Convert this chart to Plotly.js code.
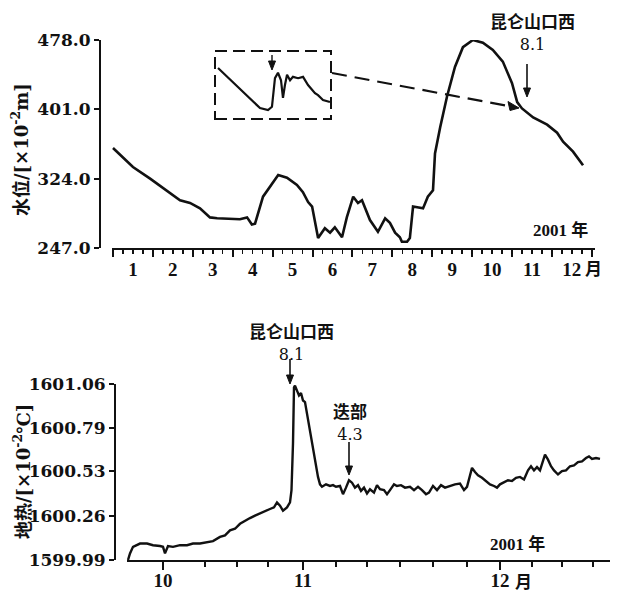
<!DOCTYPE html>
<html>
<head>
<meta charset="utf-8">
<script src="https://cdn.plot.ly/plotly-3.0.1.min.js"></script>
<style>html,body{margin:0;padding:0;background:#fff}#chart{width:618px;height:592px}</style>
</head>
<body>
<div id="chart"></div>
<script>
// ---------- Top panel: water level (months of 2001, x = months elapsed since Jan 1) ----------
const levelMonth = [0.0,0.50,0.93,1.35,1.68,1.93,2.18,2.43,2.61,3.18,3.36,3.48,3.56,3.76,3.93,4.14,4.36,4.61,4.76,4.89,4.99,5.14,5.31,5.44,5.56,5.74,5.86,6.02,6.14,6.24,6.44,6.64,6.82,6.94,7.07,7.19,7.24,7.37,7.44,7.52,7.77,7.89,8.02,8.07,8.20,8.37,8.57,8.77,9.02,9.27,9.52,9.77,10.0,10.13,10.25,10.53,10.88,11.13,11.28,11.53,11.78];
const levelValue = [358,337,324,311,300,297,291,281,280,279,281,273,274,304,315,328,325,317,309,298,293,258,269,264,270,259,281,304,297,300,278,265,280,275,264,259,254,254,258,293,291,304,311,352,381,415,448,470,478,475,467,454,430,409,402,392,384,375,365,354,339];

// Inset (zoom of the 8.1 event), relative units
const insetTime  = [0.026,0.198,0.388,0.457,0.491,0.517,0.543,0.569,0.586,0.603,0.621,0.647,0.672,0.716,0.759,0.802,0.862,0.888,0.931,0.991];
const insetLevel = [0.75,0.47,0.16,0.13,0.18,0.60,0.68,0.57,0.31,0.50,0.65,0.57,0.62,0.60,0.62,0.50,0.38,0.35,0.28,0.25];

const levelTicks = [247.0, 324.0, 401.0, 478.0];
const levelTickText = ['247.0', '324.0', '401.0', '478.0'];
const monthCenters = [0.5,1.5,2.5,3.5,4.5,5.5,6.5,7.5,8.5,9.5,10.5,11.5];
const monthLabels = ['1','2','3','4','5','6','7','8','9','10','11','12'];

// ---------- Bottom panel: geothermal temperature (x = tick units from label "10") ----------
const heatX = [-1.05,-0.99,-0.90,-0.69,-0.48,-0.30,-0.09,0,0.06,0.15,0.30,0.51,0.72,0.90,1.11,1.32,1.50,1.71,1.86,2.01,2.16,2.31,2.46,2.61,2.76,2.91,3.06,3.21,3.33,3.42,3.51,3.60,3.72,3.81,3.855,3.90,3.93,3.96,4.02,4.08,4.14,4.20,4.26,4.35,4.47,4.56,4.65,4.71,4.77,4.89,5.01,5.10,5.19,5.31,5.40,5.49,5.58,5.67,5.76,5.85,5.94,6.03,6.12,6.21,6.33,6.42,6.51,6.63,6.72,6.81,6.93,7.02,7.14,7.26,7.41,7.53,7.65,7.77,7.89,7.98,8.10,8.22,8.34,8.46,8.61,8.76,8.91,9.03,9.12,9.21,9.27,9.36,9.45,9.57,9.69,9.81,9.93,10.02,10.11,10.23,10.35,10.47,10.59,10.71,10.83,10.95,11.04,11.13,11.22,11.31,11.40,11.46,11.55,11.64,11.73,11.85,11.97,12.09,12.21,12.33,12.45,12.57,12.69,12.78,12.87,12.99,13.11];
const heatValue = [1599.99,1600.03,1600.07,1600.09,1600.09,1600.08,1600.075,1600.07,1600.03,1600.075,1600.07,1600.08,1600.08,1600.09,1600.09,1600.10,1600.105,1600.13,1600.14,1600.17,1600.18,1600.21,1600.23,1600.245,1600.26,1600.275,1600.29,1600.30,1600.31,1600.34,1600.32,1600.29,1600.31,1600.34,1600.415,1600.70,1601.04,1601.05,1601.02,1600.99,1601.005,1600.96,1600.95,1600.84,1600.72,1600.61,1600.495,1600.45,1600.435,1600.45,1600.44,1600.445,1600.435,1600.44,1600.39,1600.43,1600.475,1600.46,1600.43,1600.445,1600.41,1600.43,1600.395,1600.42,1600.40,1600.445,1600.42,1600.415,1600.39,1600.415,1600.45,1600.44,1600.445,1600.43,1600.435,1600.415,1600.435,1600.415,1600.39,1600.40,1600.44,1600.415,1600.445,1600.43,1600.44,1600.45,1600.455,1600.415,1600.435,1600.505,1600.55,1600.525,1600.505,1600.49,1600.47,1600.45,1600.44,1600.43,1600.45,1600.465,1600.475,1600.47,1600.49,1600.495,1600.48,1600.535,1600.56,1600.535,1600.555,1600.535,1600.585,1600.63,1600.60,1600.56,1600.535,1600.51,1600.53,1600.535,1600.56,1600.565,1600.585,1600.59,1600.61,1600.62,1600.605,1600.61,1600.605];

const heatTicks = [1599.99, 1600.26, 1600.53, 1600.79, 1601.06];
const heatTickText = ['1599.99', '1600.26', '1600.53', '1600.79', '1601.06'];
const heatXLabelPos = [0, 4.2, 10.11];
const heatXLabels = ['10', '11', '12'];
const heatXMinorTicks = [1.26,2.22,3.15,5.19,6.12,7.11,8.1,9.12,11.07,11.97,12.9];

// ---------- helpers (pixel -> paper) ----------
const W = 618, H = 592;
const px = v => v / W;
const py = v => 1 - v / H;

const ink = '#111';
const fontYTick = {family: 'DejaVu Serif', size: 17, color: ink, weight: 'bold'};
const fontXTick = {family: 'Liberation Serif', size: 19, color: ink, weight: 'bold'};
const fontCJK = {family: 'Noto Sans CJK SC', size: 17, color: ink, weight: 'bold'};
const fontYear = {family: 'Liberation Serif, Noto Sans CJK SC', size: 17, color: ink, weight: 'bold'};
const fontTitle = {family: 'DejaVu Serif, Noto Sans CJK SC', size: 18, color: ink, weight: 'bold'};
const fontMonth = {family: 'Noto Sans CJK SC', size: 17, color: ink, weight: 'bold'};
const numSpan = t => `<span style="font-family:'DejaVu Serif';font-weight:normal;font-size:16px">${t}</span>`;

function label(xp, yp, text, font, extra) {
  return Object.assign({xref: 'paper', yref: 'paper', x: px(xp), y: py(yp), text: text,
    showarrow: false, font: font, xanchor: 'center', yanchor: 'middle'}, extra || {});
}
// vertical arrow (shaft + filled head) as shapes, in pixel positions -> paper
function downArrow(xp, y0, y1, w) {
  const hw = 3.5, hl = 9;
  return [
    {type: 'line', xref: 'paper', yref: 'paper', x0: px(xp), x1: px(xp), y0: py(y0), y1: py(y1 - hl + 1),
     line: {color: ink, width: w}},
    {type: 'path', xref: 'paper', yref: 'paper', fillcolor: ink, line: {color: ink, width: 1},
     path: `M ${px(xp - hw)} ${py(y1 - hl)} L ${px(xp + hw)} ${py(y1 - hl)} L ${px(xp)} ${py(y1)} Z`}
  ];
}

const traces = [
  {x: levelMonth, y: levelValue, xaxis: 'x', yaxis: 'y', mode: 'lines',
   line: {color: ink, width: 2.6}, hoverinfo: 'skip'},
  // same series registered on the tick/line axis so that axis is drawn (invisible)
  {x: levelMonth, y: levelValue, xaxis: 'x3', yaxis: 'y', mode: 'lines',
   line: {color: 'rgba(0,0,0,0)', width: 0}, hoverinfo: 'skip'},
  {x: insetTime, y: insetLevel, xaxis: 'x4', yaxis: 'y4', mode: 'lines',
   line: {color: ink, width: 2.2}, hoverinfo: 'skip'},
  {x: heatX, y: heatValue, xaxis: 'x2', yaxis: 'y2', mode: 'lines',
   line: {color: ink, width: 2.4}, hoverinfo: 'skip'}
];

const topXDomain = [px(112), px(595)];
const topXRange = [-0.025, 12.08];
const topYDomain = [py(248), py(40)];
const botXDomain = [px(127), px(610)];
const botXRange = [-1.08, 13.41];
const botYDomain = [py(560), py(384)];

// connector arrowhead tip (on the curve, in pixels)
const tipX = 519, tipY = 108;

const layout = {
  width: W, height: H,
  margin: {l: 0, r: 0, t: 0, b: 0},
  paper_bgcolor: '#fff', plot_bgcolor: 'rgba(0,0,0,0)',
  showlegend: false,
  // top panel: label axis
  xaxis: {domain: topXDomain, range: topXRange, anchor: 'y',
    tickmode: 'array', tickvals: monthCenters, ticktext: monthLabels,
    ticks: 'outside', ticklen: 6, tickcolor: 'rgba(0,0,0,0)', ticklabelstandoff: -2,
    showline: false, showgrid: false, zeroline: false, tickfont: fontXTick, fixedrange: true},
  // top panel: tick/line axis
  xaxis3: {domain: topXDomain, range: topXRange, anchor: 'y', overlaying: 'x',
    tickmode: 'linear', tick0: 0, dtick: 1, ticks: 'outside', ticklen: 7, tickwidth: 2, tickcolor: ink,
    minor: {tickmode: 'linear', tick0: 0, dtick: 0.25, ticks: 'outside', ticklen: 4, tickwidth: 1.5, tickcolor: ink, showgrid: false},
    showticklabels: false, showline: true, linewidth: 2, linecolor: ink,
    showgrid: false, zeroline: false, fixedrange: true},
  yaxis: {domain: topYDomain, range: [247, 478], anchor: 'free', position: px(100),
    tickmode: 'array', tickvals: levelTicks, ticktext: levelTickText,
    ticks: 'outside', ticklen: 5, tickwidth: 2, tickcolor: ink,
    showline: true, linewidth: 2, linecolor: ink, showgrid: false, zeroline: false,
    tickfont: fontYTick, fixedrange: true},
  // inset
  xaxis4: {domain: [px(215), px(331)], range: [0, 1], anchor: 'y4', visible: false, fixedrange: true},
  yaxis4: {domain: [py(119), py(51)], range: [0, 1], anchor: 'x4', visible: false, fixedrange: true},
  // bottom panel
  xaxis2: {domain: botXDomain, range: botXRange, anchor: 'y2',
    tickmode: 'array', tickvals: heatXLabelPos, ticktext: heatXLabels,
    ticks: 'outside', ticklen: 8, tickwidth: 2, tickcolor: ink, ticklabelstandoff: -6,
    minor: {tickmode: 'array', tickvals: heatXMinorTicks, ticks: 'outside', ticklen: 5, tickwidth: 2, tickcolor: ink, showgrid: false},
    showline: true, linewidth: 2, linecolor: ink, showgrid: false, zeroline: false,
    tickfont: fontXTick, fixedrange: true},
  yaxis2: {domain: botYDomain, range: [1599.99, 1601.06], anchor: 'free', position: px(115),
    tickmode: 'array', tickvals: heatTicks, ticktext: heatTickText,
    ticks: 'outside', ticklen: 5, tickwidth: 2, tickcolor: ink,
    showline: true, linewidth: 2, linecolor: ink, showgrid: false, zeroline: false,
    tickfont: fontYTick, fixedrange: true},
  shapes: [
    {type: 'rect', xref: 'paper', yref: 'paper', x0: px(215), x1: px(331), y0: py(119), y1: py(51),
     line: {color: ink, width: 2, dash: '12px,6px'}},
    {type: 'line', xref: 'paper', yref: 'paper', x0: px(332), y0: py(73), x1: px(508), y1: py(106),
     line: {color: ink, width: 2.2, dash: '15px,8px'}},
    {type: 'path', xref: 'paper', yref: 'paper', fillcolor: ink, line: {color: ink, width: 1},
     path: `M ${px(tipX)} ${py(tipY)} L ${px(tipX - 11)} ${py(tipY - 6.5)} L ${px(tipX - 9)} ${py(tipY + 2.5)} Z`},
    ...downArrow(527, 64, 97, 1.6),
    ...downArrow(272, 55, 70, 1.4),
    ...downArrow(290, 359, 384, 1.6),
    ...downArrow(349, 442, 475, 1.6)
  ],
  annotations: [
    // axis titles
    label(20, 150, '水位/[×10<sup>-2</sup>m]', fontTitle, {textangle: -90}),
    label(22, 472, '地热/[×10<sup>-2</sup>℃]', fontTitle, {textangle: -90}),
    // units
    label(593, 268, '月', fontMonth),
    label(523, 580, '月', fontMonth),
    label(560, 230, '2001 年', fontYear),
    label(517, 544, '2001 年', fontYear),
    // event labels (name + magnitude)
    label(532, 31, '昆仑山口西<br>' + numSpan('8.1'), fontCJK),
    label(291, 341, '昆仑山口西<br>' + numSpan('8.1'), fontCJK),
    label(350, 421, '迭部<br>' + numSpan('4.3'), fontCJK)
  ]
};

Plotly.newPlot('chart', traces, layout, {staticPlot: true, displayModeBar: false});
</script>
</body>
</html>
